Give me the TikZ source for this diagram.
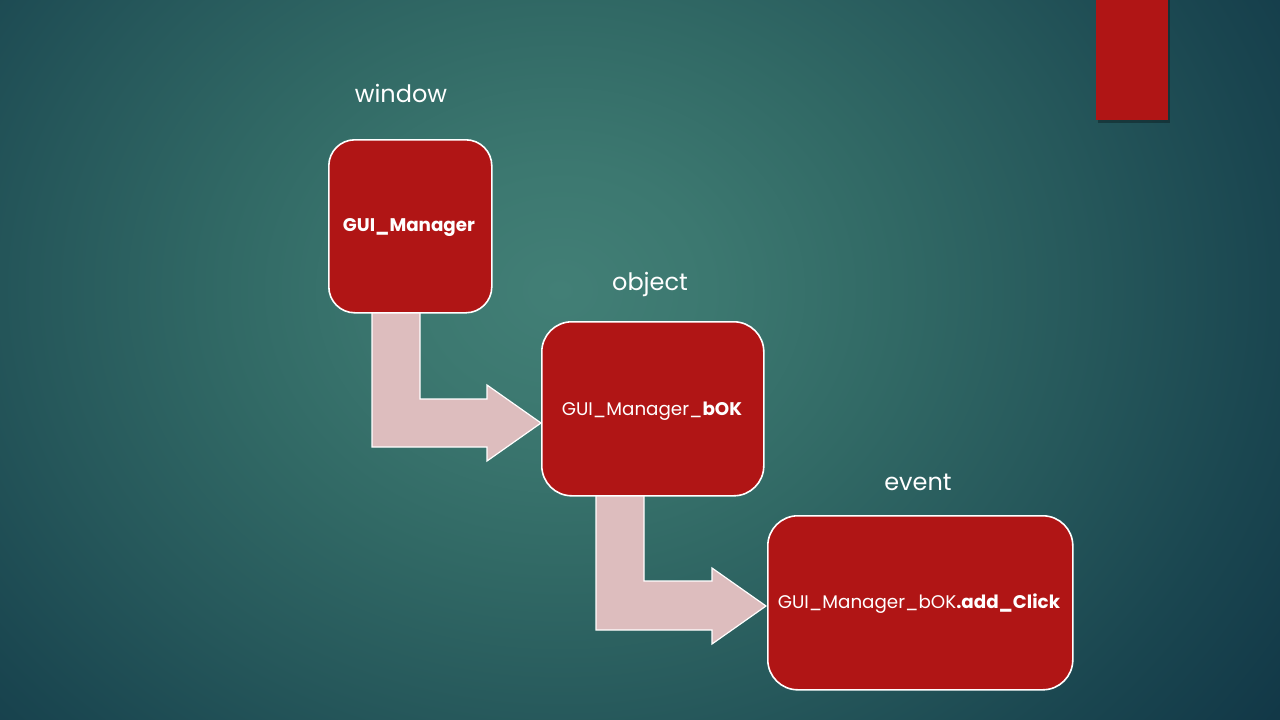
\documentclass[tikz,border=0pt]{standalone}
\usepackage{fontspec}
\setmainfont{Poppins}
\usetikzlibrary{calc}
\definecolor{boxred}{HTML}{B01515}
\definecolor{arrowpink}{HTML}{DDBDBE}
\definecolor{bgouter}{HTML}{0F3344}
\definecolor{bga}{HTML}{427F76}
\definecolor{bgb}{HTML}{3C7870}
\definecolor{bgc}{HTML}{316965}
\definecolor{bgd}{HTML}{26585B}
\definecolor{bge}{HTML}{1A4650}
\pgfdeclareradialshading{bgshade}{\pgfpoint{0bp}{0bp}}{%
  color(0bp)=(bga);
  color(4bp)=(bgb);
  color(9bp)=(bgc);
  color(14bp)=(bgd);
  color(19bp)=(bge);
  color(25bp)=(bgouter);
  color(50bp)=(bgouter)}
\tikzset{
  stepbox/.style={draw=white, line width=1.6pt, fill=boxred, rounded corners=26pt,
    inner sep=0pt, anchor=north west},
  boxtext/.style={text=white, font=\fontsize{18.3}{22}\selectfont, inner sep=0pt},
  lbl/.style={text=white, font=\fontsize{24}{28}\selectfont, inner sep=0pt},
  bent/.style={draw=white, line width=1.2pt, fill=arrowpink, line join=miter}
}
\begin{document}
\begin{tikzpicture}[x=1pt,y=-1pt]
\useasboundingbox (0,0) rectangle (1280,720);
\fill[bgouter] (0,0) rectangle (1280,720);
\begin{scope}
\clip (0,0) rectangle (1280,720);
\shade[shading=bgshade] (560,290) ellipse (940 and 780);
\end{scope}
% top right tab
\fill[black, opacity=0.3] (1098,0) rectangle (1170,123);
\fill[boxred] (1096,0) rectangle (1168,120);

% bent arrows
\draw[bent] (372,312) -- (420,312) -- (420,399) -- (487,399) -- (487,385) -- (541,423)
  -- (487,461) -- (487,447) -- (372,447) -- cycle;
\draw[bent] (596,495) -- (644,495) -- (644,581) -- (712,581) -- (712,568) -- (766,606)
  -- (712,644) -- (712,630) -- (596,630) -- cycle;

% boxes
\node[stepbox, minimum width=163pt, minimum height=173pt] (mgr) at (328,139) {};
\node[boxtext, font=\fontsize{18.3}{22}\selectfont\bfseries] (mgrt) at (409,228) {GUI\_Manager};
\node[stepbox, minimum width=222pt, minimum height=174pt, rounded corners=30pt] (bok) at (541,321) {};
\node[boxtext] (bokt) at (652,411) {GUI\_Manager\_\textbf{bOK}};
\node[stepbox, minimum width=305pt, minimum height=174pt, rounded corners=30pt] (clk) at (767,515) {};
\node[boxtext] (clkt) at (919,604) {GUI\_Manager\_bOK\textbf{.add\_Click}};

% labels
\node[lbl] (lw) at (401,93) {window};
\node[lbl] (lo) at (650,284) {object};
\node[lbl] (le) at (918,482) {event};
\end{tikzpicture}
\end{document}
